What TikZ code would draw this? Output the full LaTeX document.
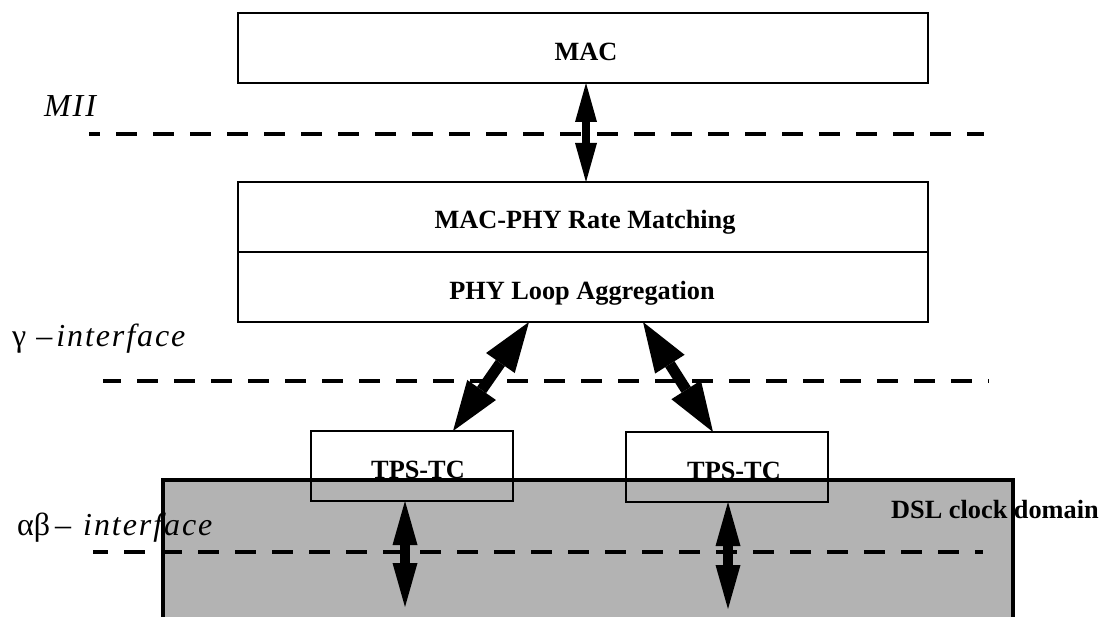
\documentclass[tikz,border=0pt]{standalone}
\usepackage{fontspec}
\setmainfont{Liberation Serif}
\newfontfamily\spit{Liberation Serif}[LetterSpace=6]
\usetikzlibrary{arrows.meta}
\definecolor{dslgray}{RGB}{179,179,179}
\tikzset{
  box/.style={draw, line width=2.5pt, inner sep=0pt, outer sep=0pt},
  lbl/.style={inner sep=0pt, anchor=base, font=\fontsize{26.3}{30}\selectfont\bfseries},
  ifc/.style={inner sep=0pt, anchor=base west, font=\fontsize{32}{36}\selectfont},
  ifline/.style={line width=4pt, dash pattern=on 21pt off 16pt},
  dbl/.style n args={3}{line width=#1pt,
    arrows={Triangle[length=#2pt,width=#3pt,line width=0pt]-Triangle[length=#2pt,width=#3pt,line width=0pt]}}
}
\begin{document}
\begin{tikzpicture}[x=1pt,y=-1pt]
\useasboundingbox (0,0) rectangle (1102,617);
% DSL clock domain region
\node[fill=dslgray, inner sep=0pt, outer sep=0pt, minimum width=850pt, minimum height=140pt, anchor=north west] (dsl) at (163,480) {};
\draw[line width=3.5pt] (dsl.south west) |- (dsl.north east) -- (dsl.south east);
% boxes
\node[box, minimum width=690pt, minimum height=70pt] (mac) at (583,48) {};
\node[box, minimum width=690pt, minimum height=70pt] (rm) at (583,217) {};
\node[box, minimum width=690pt, minimum height=70pt] (pl) at (583,287) {};
\node[box, minimum width=202pt, minimum height=70pt] (tpsl) at (412,466) {};
\node[box, minimum width=202pt, minimum height=70pt] (tpsr) at (727,467) {};
% texts
\node[lbl] (tmac) at (586,61) {MAC};
\node[lbl] (trm) at (585,229) {MAC-PHY Rate Matching};
\node[lbl] (tpl) at (582,300) {PHY Loop Aggregation};
\node[lbl] (ttl) at (418,478) {TPS-TC};
\node[lbl] (ttr) at (734,479) {TPS-TC};
\node[lbl, anchor=base west] (tdsl) at (891,518) {DSL clock domain};
\node[ifc] (lmii) at (44,117) {\spit\itshape MII};
\node[ifc] (lgam) at (12,346) {γ\hspace{10pt}–\hspace{4pt}{\spit\itshape interface}};
\node[ifc] (lab) at (17,535) {αβ\hspace{5pt}–\hspace{12pt}{\spit\itshape interface}};
% interface lines
\coordinate (m1) at (89,134); \coordinate (m2) at (984,134);
\coordinate (g1) at (103,381); \coordinate (g2) at (989,381);
\coordinate (a1) at (93,552); \coordinate (a2) at (983,552);
\draw[ifline, dash phase=10pt] (m1) -- (m2);
\draw[ifline, dash phase=3pt] (g1) -- (g2);
\draw[ifline, dash phase=6pt] (a1) -- (a2);
% arrows
\coordinate (xa) at (586,0);
\coordinate (xl1) at (529,0); \coordinate (xl2) at (453,0);
\coordinate (xr1) at (643,0); \coordinate (xr2) at (713,0);
\coordinate (bl) at (405,607); \coordinate (br) at (728,609);
\draw[dbl={8}{39}{22}] (mac.south -| xa) -- (rm.north -| xa);
\draw[dbl={11}{50}{35}] (pl.south -| xl1) -- (tpsl.north -| xl2);
\draw[dbl={11}{50}{35}] (pl.south -| xr1) -- (tpsr.north -| xr2);
\draw[dbl={10}{44}{25}] (tpsl.south -| bl) -- (bl);
\draw[dbl={10}{44}{25}] (tpsr.south -| br) -- (br);
\end{tikzpicture}
\end{document}
